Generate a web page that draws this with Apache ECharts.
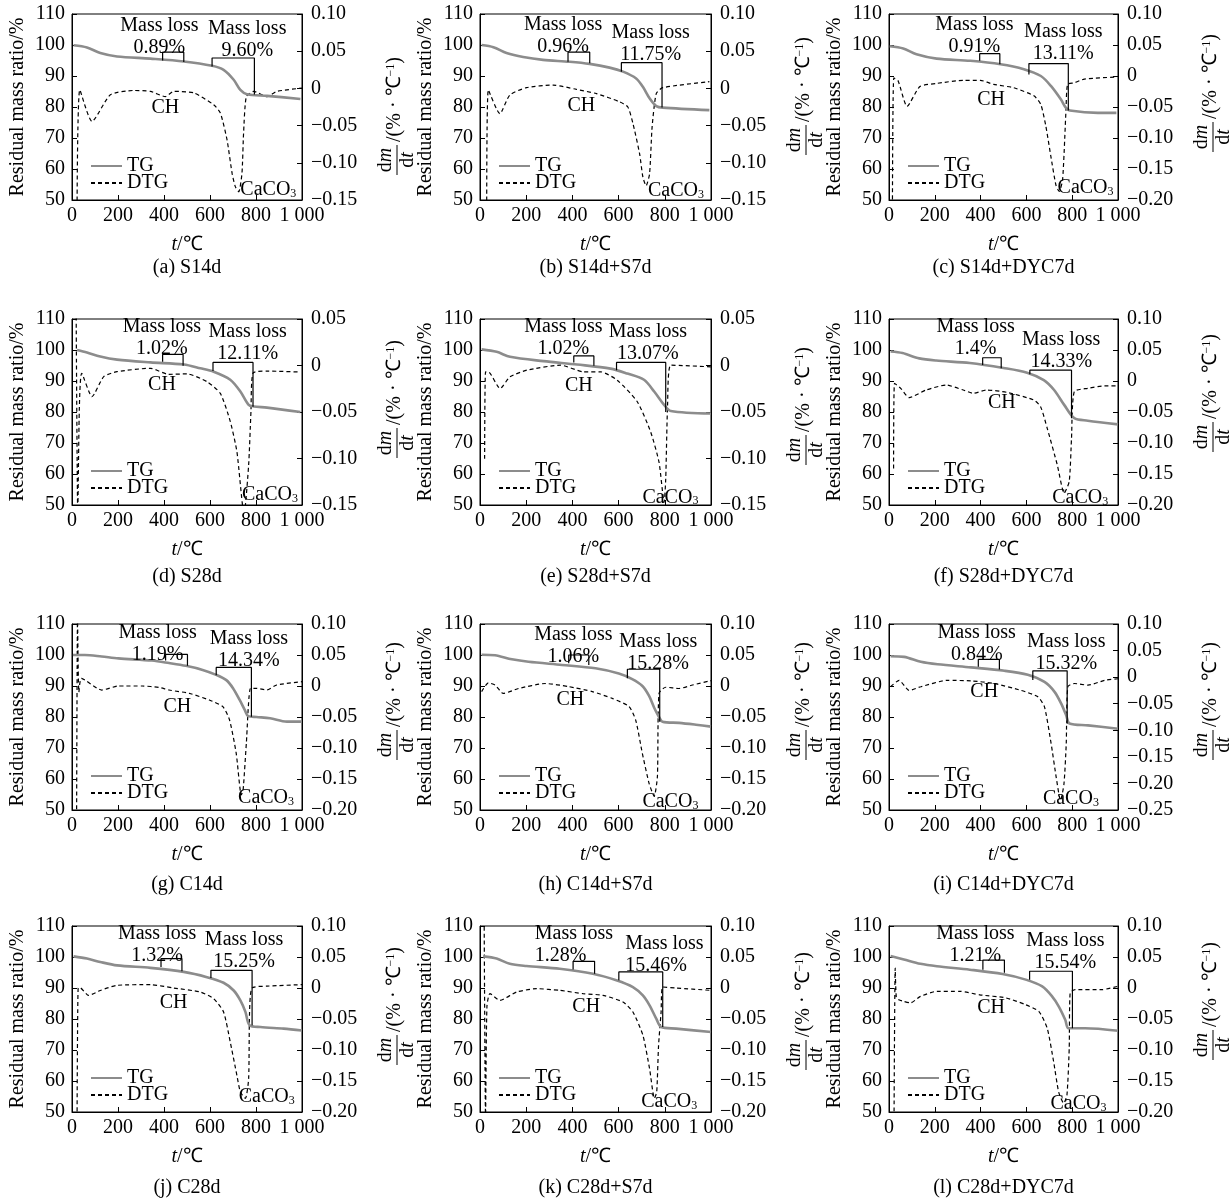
<!DOCTYPE html>
<html>
<head>
<meta charset="utf-8">
<script src="https://cdn.jsdelivr.net/npm/echarts@6/dist/echarts.min.js"></script>
<style>
html, body { margin: 0; padding: 0; background: #fff; }
#main { width: 1230px; height: 1201px; }
</style>
</head>
<body>
<div id="main"></div>
<script>
// sub-figure captions and labels
const captions = ['(a) S14d', '(b) S14d+S7d', '(c) S14d+DYC7d', '(d) S28d', '(e) S28d+S7d', '(f) S28d+DYC7d',
  '(g) C14d', '(h) C14d+S7d', '(i) C14d+DYC7d', '(j) C28d', '(k) C28d+S7d', '(l) C28d+DYC7d']
const loss1 = ['0.89%', '0.96%', '0.91%', '1.02%', '1.02%', '1.4%', '1.19%', '1.06%', '0.84%', '1.32%', '1.28%', '1.21%']
const loss2 = ['9.60%', '11.75%', '13.11%', '12.11%', '13.07%', '14.33%', '14.34%', '15.28%', '15.32%', '15.25%', '15.46%', '15.54%']

// right axis (DTG) ranges
const dtgMin = [-0.15, -0.15, -0.20, -0.15, -0.15, -0.20, -0.20, -0.20, -0.25, -0.20, -0.20, -0.20]
const dtgMax = [0.10, 0.10, 0.10, 0.05, 0.05, 0.10, 0.10, 0.10, 0.10, 0.10, 0.10, 0.10]

// TG curves [t, residual mass %]
const tgA = [[7, 99.9], [65, 99.2], [123, 97.4], [196, 96.3], [341, 95.6], [486, 94.7], [609, 93.3], [659, 92.0], [703, 88.8], [732, 85.5], [761, 84.1], [848, 83.6], [993, 82.6]]
const tgB = [[7, 100.0], [58, 99.3], [115, 97.4], [187, 96.1], [273, 95.2], [388, 94.6], [475, 93.9], [561, 92.7], [619, 91.4], [676, 89.2], [705, 86.5], [734, 82.8], [763, 80.3], [791, 79.8], [993, 79.0]]
const tgC = [[3, 99.6], [62, 98.9], [120, 97.0], [208, 95.6], [355, 94.9], [487, 93.8], [589, 92.2], [663, 90.0], [707, 86.8], [751, 82.4], [772, 79.8], [790, 78.9], [912, 78.1], [993, 78.1]]
const tgD = [[22, 100.0], [65, 99.2], [123, 97.9], [196, 96.9], [341, 96.0], [486, 95.3], [558, 94.1], [616, 93.0], [688, 90.4], [732, 86.6], [768, 82.3], [790, 81.8], [848, 81.4], [993, 80.0]]
const tgE = [[7, 100.2], [72, 99.4], [130, 97.8], [275, 96.4], [420, 95.3], [565, 94.0], [638, 92.4], [710, 90.4], [754, 86.6], [797, 82.3], [826, 80.3], [1000, 79.5]]
const tgF = [[7, 99.5], [59, 99.0], [132, 97.3], [206, 96.6], [353, 95.8], [500, 94.2], [603, 92.7], [676, 90.3], [721, 87.1], [765, 82.3], [809, 78.0], [868, 77.2], [1000, 76.0]]
const tgG = [[4, 100.0], [56, 100.0], [129, 99.5], [202, 98.9], [348, 98.2], [422, 97.4], [495, 96.5], [568, 95.2], [627, 93.6], [671, 91.9], [700, 89.3], [729, 85.5], [751, 82.3], [766, 80.3], [802, 80.0], [861, 79.6], [934, 78.5], [1000, 78.5]]
const tgH = [[7, 100.1], [65, 99.9], [138, 98.6], [210, 97.8], [355, 96.8], [500, 95.7], [601, 94.0], [659, 92.2], [703, 90.0], [732, 86.8], [754, 83.0], [775, 80.0], [790, 78.5], [862, 78.1], [935, 77.5], [1000, 76.9]]
const tgI = [[7, 99.6], [66, 99.4], [139, 97.8], [212, 97.0], [358, 96.0], [504, 94.9], [606, 93.6], [679, 91.3], [723, 88.1], [752, 84.3], [774, 80.5], [788, 77.9], [869, 77.3], [1000, 76.2]]
const tgJ = [[7, 100.2], [65, 99.5], [123, 98.4], [196, 97.3], [341, 96.5], [486, 95.2], [587, 93.5], [659, 91.7], [703, 89.2], [732, 86.0], [754, 82.3], [772, 78.0], [819, 77.4], [920, 76.9], [1000, 76.3]]
const tgK = [[14, 100.2], [72, 99.5], [129, 97.8], [201, 97.1], [345, 96.2], [489, 94.6], [590, 92.5], [662, 90.3], [705, 87.6], [734, 84.4], [763, 80.1], [784, 77.4], [849, 76.9], [1000, 75.8]]
const tgL = [[7, 100.3], [65, 99.2], [137, 97.8], [209, 97.0], [353, 95.9], [496, 94.5], [597, 92.7], [669, 90.5], [712, 87.3], [741, 84.1], [770, 79.7], [784, 77.0], [856, 77.0], [1000, 76.2]]

// DTG curves [t, dm/dt]
const dtgA = [[22, -0.16], [34, -0.002], [87, -0.0445], [167, -0.0086], [268, -0.0028], [341, -0.004], [406, -0.011], [442, -0.004], [529, -0.006], [616, -0.022], [645, -0.033], [674, -0.069], [696, -0.114], [710, -0.132], [725, -0.139], [739, -0.114], [746, -0.060], [758, -0.011], [790, -0.004], [848, -0.011], [891, -0.004], [1000, 0.0004]]
const dtgB = [[29, -0.16], [36, -0.002], [86, -0.034], [129, -0.009], [201, 0.001], [317, 0.0045], [417, -0.0013], [504, -0.007], [604, -0.018], [640, -0.025], [662, -0.047], [691, -0.088], [705, -0.119], [719, -0.131], [734, -0.115], [745, -0.052], [763, -0.007], [791, 0.001], [993, 0.009]]
const dtgC = [[15, -0.21], [21, -0.003], [40, -0.008], [79, -0.049], [135, -0.017], [208, -0.012], [326, -0.007], [399, -0.007], [457, -0.0135], [545, -0.019], [633, -0.032], [663, -0.046], [685, -0.081], [707, -0.13], [729, -0.176], [743, -0.186], [758, -0.168], [773, -0.054], [780, -0.0135], [809, -0.011], [853, -0.005], [993, -0.0016]]
const dtgD = [[18, 0.06], [25, -0.16], [32, -0.045], [42, -0.0084], [87, -0.0335], [138, -0.012], [196, -0.0066], [341, -0.003], [420, -0.0095], [500, -0.009], [587, -0.0174], [645, -0.03], [688, -0.06], [717, -0.0927], [748, -0.16], [768, -0.107], [778, -0.05], [787, -0.008], [848, -0.006], [993, -0.007]]
const dtgE = [[20, -0.1004], [24, -0.0068], [36, -0.0068], [87, -0.0248], [130, -0.0122], [203, -0.005], [348, 0.0004], [449, -0.0068], [522, -0.0068], [594, -0.0158], [681, -0.039], [739, -0.0716], [775, -0.104], [797, -0.147], [804, -0.122], [812, -0.0428], [826, 0.0004], [1000, -0.0014]]
const dtgF = [[20, -0.141], [24, -0.0038], [51, -0.0118], [88, -0.0269], [162, -0.0145], [250, -0.0065], [324, -0.0145], [368, -0.0199], [426, -0.0145], [515, -0.0183], [632, -0.0306], [662, -0.0414], [691, -0.0763], [735, -0.1355], [765, -0.181], [787, -0.162], [797, -0.0925], [809, -0.0172], [868, -0.0118], [941, -0.008], [1000, -0.008]]
const dtgG = [[20, -0.21], [24, 0.11], [30, -0.01], [41, 0.0124], [129, -0.0065], [202, 0.0], [305, 0.0], [378, -0.0022], [422, -0.0065], [510, -0.0118], [597, -0.0226], [656, -0.0333], [685, -0.0548], [714, -0.1086], [736, -0.1758], [744, -0.1677], [758, -0.0925], [776, -0.0038], [802, -0.0038], [846, -0.0065], [890, 0.0016], [1000, 0.007]]
const dtgH = [[7, -0.009], [36, 0.005], [65, 0.0016], [101, -0.012], [167, -0.004], [283, 0.004], [384, -0.001], [486, -0.009], [572, -0.02], [645, -0.033], [674, -0.055], [703, -0.109], [732, -0.157], [754, -0.178], [768, -0.146], [775, -0.012], [804, -0.002], [862, -0.004], [920, 0.0016], [1000, 0.0086]]
const dtgI = [[7, -0.018], [44, -0.006], [88, -0.025], [139, -0.018], [255, -0.006], [358, -0.007], [460, -0.012], [577, -0.025], [650, -0.037], [679, -0.056], [708, -0.125], [730, -0.188], [749, -0.232], [764, -0.201], [774, -0.125], [781, -0.018], [810, -0.012], [869, -0.015], [942, -0.006], [1000, -0.003]]
const dtgJ = [[22, -0.21], [27, 0.0], [36, 0.0], [72, -0.012], [123, -0.004], [196, 0.0043], [341, 0.0054], [442, 0.0], [558, -0.0065], [616, -0.0172], [659, -0.0387], [688, -0.087], [717, -0.141], [732, -0.1677], [754, -0.178], [768, -0.146], [772, -0.0387], [783, 0.0], [848, 0.003], [1000, 0.0054]]
const dtgK = [[18, 0.11], [24, -0.21], [30, -0.03], [43, -0.009], [86, -0.02], [158, -0.0065], [245, -0.0011], [345, -0.0038], [446, -0.0091], [532, -0.0118], [619, -0.0226], [662, -0.0387], [705, -0.076], [734, -0.13], [755, -0.178], [765, -0.1677], [773, -0.0925], [784, -0.0387], [791, 0.0016], [849, 0.0], [1000, -0.0038]]
const dtgL = [[22, -0.21], [27, 0.032], [32, -0.015], [43, -0.019], [65, -0.0216], [94, -0.024], [137, -0.0135], [209, -0.0054], [309, -0.0054], [396, -0.011], [511, -0.016], [597, -0.027], [655, -0.038], [691, -0.065], [719, -0.119], [741, -0.168], [763, -0.186], [777, -0.173], [787, -0.097], [791, -0.0081], [813, -0.0027], [928, -0.0027], [1000, 0.0027]]

const tgData = [tgA, tgB, tgC, tgD, tgE, tgF, tgG, tgH, tgI, tgJ, tgK, tgL]
const dtgData = [dtgA, dtgB, dtgC, dtgD, dtgE, dtgF, dtgG, dtgH, dtgI, dtgJ, dtgK, dtgL]

// mass loss brackets [t1, t2, top, low at t1, low at t2]
const bracketCH = [[394, 486, 97.7, 95.0, 94.5], [381, 475, 97.7, 94.6, 94.1], [396, 484, 97.2, 94.9, 93.8], [394, 483, 98.6, 96.2, 94.9],
  [406, 493, 98.1, 96.0, 94.9], [409, 490, 97.5, 95.2, 94.1], [407, 502, 100.2, 98.2, 96.5], [384, 471, 100.0, 97.3, 96.8],
  [390, 482, 98.6, 96.2, 95.3], [387, 478, 99.5, 96.8, 95.4], [403, 496, 98.6, 96.0, 94.6], [410, 504, 99.0, 95.9, 94.9]]
const bracketCC = [[609, 793, 95.8, 93.1, 84.0], [612, 788, 94.3, 91.4, 79.8], [611, 783, 94.0, 90.5, 78.9], [613, 787, 96.0, 93.2, 81.7],
  [591, 804, 96.0, 93.5, 80.0], [615, 797, 93.5, 92.2, 78.0], [627, 780, 96.0, 93.5, 80.1], [638, 778, 95.4, 92.5, 78.5],
  [628, 778, 94.9, 91.9, 77.8], [604, 783, 95.7, 93.2, 78.0], [601, 791, 95.2, 92.5, 77.4], [614, 801, 95.4, 92.7, 77.0]]

// where the annotations sit (axis units)
const notes = [
  { t1: [380, 102.8], t2: [762, 101.7], ch: [406, 79.6], ca: [732, 53.2] },
  { t1: [360, 102.9], t2: [739, 100.4], ch: [439, 80.3], ca: [727, 53.0] },
  { t1: [373, 103.0], t2: [761, 100.6], ch: [446, 82.4], ca: [736, 53.8] },
  { t1: [391, 103.8], t2: [764, 102.2], ch: [391, 88.7], ca: [739, 53.4] },
  { t1: [361, 103.8], t2: [727, 102.4], ch: [428, 88.6], ca: [703, 52.5] },
  { t1: [378, 104.0], t2: [752, 99.6], ch: [493, 83.1], ca: [713, 52.4] },
  { t1: [372, 103.5], t2: [769, 101.6], ch: [458, 83.3], ca: [722, 53.8] },
  { t1: [404, 102.9], t2: [771, 100.8], ch: [391, 85.7], ca: [703, 52.7] },
  { t1: [383, 103.6], t2: [774, 100.7], ch: [416, 88.1], ca: [672, 53.6] },
  { t1: [370, 103.8], t2: [748, 101.9], ch: [442, 85.3], ca: [725, 54.8] },
  { t1: [237, 103.9, 'left'], t2: [629, 100.8, 'left'], ch: [460, 83.9], ca: [698, 53.2] },
  { t1: [377, 103.9], t2: [770, 101.7], ch: [446, 83.5], ca: [705, 52.7] }
]

const serif = "'Liberation Serif', 'Times New Roman', serif"
const colLeft = [72, 480, 889]
const colWidth = [230, 231, 229]
const rowTop = [14, 319, 624, 926]
const plotH = 186
const captionY = [268, 577, 885, 1188]
const fracOff = [146, 126, 123, 124, 131, 118, 121, 121, 121, 124, 129, 119]

function box (i) {
  const r = Math.floor(i / 3)
  const c = i % 3
  return { left: colLeft[c], top: rowTop[r], width: colWidth[c], height: plotH, row: r }
}

function fmtDtg (v) {
  if (Math.abs(v) < 1e-9) return '0'
  return (v < 0 ? '\u2212' : '') + Math.abs(v).toFixed(2)
}

const txt = { color: '#000', fontSize: 20, fontFamily: serif }
const grids = []
const xAxes = []
const yAxes = []
const series = []
const legends = []
const graphics = []

for (let i = 0; i < 12; i++) {
  const b = box(i)
  grids.push({
    left: b.left, top: b.top, width: b.width, height: b.height,
    show: true, borderColor: '#000', borderWidth: 1, backgroundColor: 'transparent',
    outerBoundsMode: 'none'
  })
  xAxes.push({
    gridIndex: i, type: 'value', min: 0, max: 1000, interval: 200,
    axisLine: { onZero: false, lineStyle: { color: '#000', width: 1 } },
    axisTick: { inside: true, length: 5, lineStyle: { color: '#000' } },
    axisLabel: Object.assign({ margin: 6, formatter: v => v === 1000 ? '1 000' : String(v) }, txt),
    splitLine: { show: false },
    name: '{i|t}/℃',
    nameLocation: 'middle',
    nameGap: 35,
    nameMoveOverlap: false,
    nameTextStyle: Object.assign({ rich: { i: { fontStyle: 'italic', fontSize: 20, fontFamily: serif, color: '#000' } } }, txt)
  })
  yAxes.push({
    gridIndex: i, type: 'value', position: 'left', min: 50, max: 110, interval: 10,
    axisLine: { show: true, onZero: false, lineStyle: { color: '#000', width: 1 } },
    axisTick: { show: true, inside: true, length: 5, lineStyle: { color: '#000' } },
    axisLabel: Object.assign({ margin: 7 }, txt),
    splitLine: { show: false },
    name: 'Residual mass ratio/%',
    nameLocation: 'middle',
    nameRotate: 90,
    nameGap: 44,
    nameMoveOverlap: false,
    nameTextStyle: txt
  })
  yAxes.push({
    gridIndex: i, type: 'value', position: 'right', min: dtgMin[i], max: dtgMax[i], interval: 0.05,
    axisLine: { show: true, onZero: false, lineStyle: { color: '#000', width: 1 } },
    axisTick: { show: true, inside: true, length: 5, lineStyle: { color: '#000' } },
    axisLabel: Object.assign({ margin: 9, formatter: fmtDtg }, txt),
    splitLine: { show: false }
  })

  series.push({
    type: 'line', name: 'TG', xAxisIndex: i, yAxisIndex: 2 * i, data: tgData[i],
    symbol: 'none', smooth: 0.3, silent: true, z: 3,
    lineStyle: { color: '#8c8c8c', width: 2.6 }, itemStyle: { color: '#8c8c8c' }
  })
  series.push({
    type: 'line', name: 'DTG', xAxisIndex: i, yAxisIndex: 2 * i + 1, data: dtgData[i],
    symbol: 'none', smooth: 0.2, silent: true, z: 2,
    lineStyle: { color: '#000', width: 1.2, type: [4, 3] }, itemStyle: { color: '#000' }
  })
  for (const br of [bracketCH[i], bracketCC[i]]) {
    series.push({
      type: 'line', xAxisIndex: i, yAxisIndex: 2 * i,
      data: [[br[0], br[3]], [br[0], br[2]], [br[1], br[2]], [br[1], br[4]]],
      symbol: 'none', silent: true, z: 4,
      lineStyle: { color: '#000', width: 1.2 }
    })
  }

  legends.push({
    left: b.left + 13, top: b.top + 137, orient: 'vertical',
    itemWidth: 31, itemHeight: 10, itemGap: -3,
    selectedMode: false,
    itemStyle: { opacity: 0 },
    data: ['TG', 'DTG'],
    textStyle: Object.assign({ lineHeight: 17 }, txt)
  })

  graphics.push({
    type: 'text',
    x: b.left + b.width / 2,
    y: captionY[b.row],
    style: { text: captions[i], fill: '#000', fontSize: 20, fontFamily: serif, align: 'center', verticalAlign: 'middle' }
  })
  const rich = {
    r: { fontSize: 20, fontFamily: serif, fill: '#000' },
    i: { fontSize: 20, fontFamily: serif, fill: '#000', fontStyle: 'italic' },
    s: { fontSize: 12, fontFamily: serif, fill: '#000', lineHeight: 10, verticalAlign: 'top' }
  }
  graphics.push({
    type: 'group',
    x: b.left + b.width + 95,
    y: b.top + fracOff[i],
    rotation: Math.PI / 2,
    children: [
      { type: 'text', x: 0, y: -1, style: { text: '{r|d}{i|m}', rich, align: 'center', verticalAlign: 'bottom' } },
      { type: 'line', shape: { x1: -15, y1: 0, x2: 15, y2: 0 }, style: { stroke: '#000', lineWidth: 1 } },
      { type: 'text', x: 0, y: 1, style: { text: '{r|d}{i|t}', rich, align: 'center', verticalAlign: 'top' } },
      { type: 'text', x: 18, y: -2, style: { text: '{r|/(% · ℃}{s|\u22121}{r|)}', rich, align: 'left', verticalAlign: 'middle' } }
    ]
  })
}

const chart = echarts.init(document.getElementById('main'))
chart.setOption({
  animation: false,
  backgroundColor: '#fff',
  grid: grids,
  xAxis: xAxes,
  yAxis: yAxes,
  legend: legends,
  series: series
})

// annotation texts, placed through each panel's TG scale
const subRich = {
  n: { fontSize: 20, fontFamily: serif, fill: '#000', lineHeight: 20, verticalAlign: 'bottom' },
  s: { fontSize: 12, fontFamily: serif, fill: '#000', lineHeight: 8, verticalAlign: 'bottom' }
}
function noteText (i, pos, text, align) {
  const p = chart.convertToPixel({ xAxisIndex: i, yAxisIndex: 2 * i }, [pos[0], pos[1]])
  return {
    type: 'text', x: p[0], y: p[1], z: 10,
    style: { text, fill: '#000', fontSize: 20, fontFamily: serif, lineHeight: 22, align: align || 'center', verticalAlign: 'middle', rich: subRich }
  }
}
for (let i = 0; i < 12; i++) {
  const n = notes[i]
  graphics.push(noteText(i, n.t1, 'Mass loss\n' + loss1[i], n.t1[2]))
  graphics.push(noteText(i, n.t2, 'Mass loss\n' + loss2[i], n.t2[2]))
  graphics.push(noteText(i, n.ch, 'CH'))
  graphics.push(noteText(i, n.ca, '{n|CaCO}{s|3}', 'left'))
}
chart.setOption({ graphic: graphics })
</script>
</body>
</html>
